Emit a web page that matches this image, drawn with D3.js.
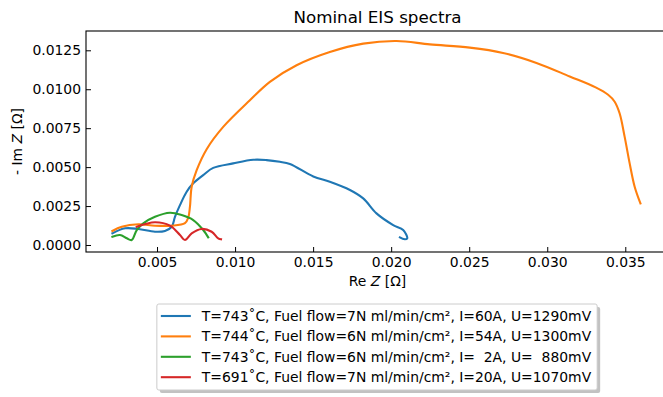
<!DOCTYPE html>
<html lang="en">
<head>
    <meta charset="UTF-8">
    <title>Nominal EIS spectra</title>
    <script src="https://d3js.org/d3.v7.min.js"></script>
    <style>
        body { margin: 0; background: #fff; }
        svg { display: block; font-family: "DejaVu Sans", sans-serif; }
        .tick text { font-size: 13.9px; fill: #000; }
        .tick line { stroke: #000; stroke-width: 1; }
    </style>
</head>
<body>
    <script>
    // Nyquist data: Re Z and -Im Z in ohm
    const blueRe = [0.00214, 0.00295, 0.00380, 0.00487, 0.00551, 0.00594, 0.00615, 0.00647, 0.00690, 0.00732, 0.00796, 0.00860, 0.00988, 0.01117, 0.01202, 0.01287, 0.01351, 0.01501, 0.01607, 0.01736, 0.01821, 0.01906, 0.02013, 0.02077, 0.02103, 0.02088, 0.02056];
    const blueIm = [0.00075, 0.00107, 0.00103, 0.00085, 0.00090, 0.00117, 0.00181, 0.00256, 0.00342, 0.00396, 0.00449, 0.00495, 0.00524, 0.00547, 0.00545, 0.00534, 0.00520, 0.00440, 0.00406, 0.00353, 0.00299, 0.00203, 0.00128, 0.00096, 0.00043, 0.00037, 0.00049];

    const orangeRe = [0.00214, 0.00274, 0.00380, 0.00487, 0.00594, 0.00679, 0.00700, 0.00711, 0.00722, 0.00754, 0.00818, 0.00924, 0.01095, 0.01223, 0.01394, 0.01607, 0.01821, 0.02035, 0.02248, 0.02504, 0.02717, 0.02931, 0.03144, 0.03310, 0.03390, 0.03432, 0.03464, 0.03496, 0.03528, 0.03560, 0.03597];
    const orangeIm = [0.00090, 0.00117, 0.00133, 0.00124, 0.00124, 0.00140, 0.00175, 0.00246, 0.00374, 0.00480, 0.00615, 0.00758, 0.00929, 0.01047, 0.01154, 0.01239, 0.01293, 0.01310, 0.01288, 0.01267, 0.01233, 0.01169, 0.01082, 0.01012, 0.00965, 0.00920, 0.00844, 0.00694, 0.00524, 0.00374, 0.00267];

    const greenRe = [0.00214, 0.00263, 0.00306, 0.00338, 0.00370, 0.00412, 0.00487, 0.00583, 0.00658, 0.00732, 0.00796, 0.00828];
    const greenIm = [0.00053, 0.00064, 0.00043, 0.00032, 0.00096, 0.00139, 0.00181, 0.00207, 0.00192, 0.00160, 0.00096, 0.00049];

    const redRe = [0.00370, 0.00487, 0.00583, 0.00647, 0.00679, 0.00722, 0.00786, 0.00850, 0.00892, 0.00910];
    const redIm = [0.00117, 0.00146, 0.00124, 0.00064, 0.00032, 0.00075, 0.00103, 0.00085, 0.00043, 0.00037];

    const labels = [
        "T=743\u02DAC, Fuel flow=7N ml/min/cm\u00B2, I=60A, U=1290mV",
        "T=744\u02DAC, Fuel flow=6N ml/min/cm\u00B2, I=54A, U=1300mV",
        "T=743\u02DAC, Fuel flow=6N ml/min/cm\u00B2, I=  2A, U=  880mV",
        "T=691\u02DAC, Fuel flow=7N ml/min/cm\u00B2, I=20A, U=1070mV"
    ];
    const colors = ["#1f77b4", "#ff7f0e", "#2ca02c", "#d62728"];

    const xTicks = [0.005, 0.010, 0.015, 0.020, 0.025, 0.030, 0.035];
    const yTicks = [0, 0.0025, 0.0050, 0.0075, 0.0100, 0.0125];

    const series = [[blueRe, blueIm], [orangeRe, orangeIm], [greenRe, greenIm], [redRe, redIm]]
        .map(([re, im]) => re.map((r, i) => ({ re: r, im: im[i] })));

    const W = 663, H = 397;
    const mLeft = 86, mRight = 669, mTop = 31, mBottom = 252;

    const svg = d3.select("body").append("svg")
        .attr("width", W)
        .attr("height", H);

    const x = d3.scaleLinear().domain([0.00045, 0.0378]).range([mLeft, mRight]);
    const y = d3.scaleLinear().domain([-0.00045, 0.01374]).range([mBottom, mTop]);

    svg.append("clipPath").attr("id", "plot")
        .append("rect")
        .attr("x", mLeft).attr("y", mTop)
        .attr("width", mRight - mLeft).attr("height", mBottom - mTop);

    // axes, ticks point inward
    const xAxis = svg.append("g")
        .attr("transform", `translate(0,${mBottom})`)
        .call(d3.axisBottom(x).tickValues(xTicks).tickFormat(d3.format(".3f"))
            .tickSizeInner(-5).tickSizeOuter(0).tickPadding(5));
    const yAxis = svg.append("g")
        .attr("transform", `translate(${mLeft},0)`)
        .call(d3.axisLeft(y).tickValues(yTicks).tickFormat(d3.format(".4f"))
            .tickSizeInner(-5).tickSizeOuter(0).tickPadding(5));
    xAxis.select(".domain").remove();
    yAxis.select(".domain").remove();
    svg.selectAll(".tick text").attr("font-family", "DejaVu Sans");

    const line = d3.line()
        .x(d => x(d.re))
        .y(d => y(d.im))
        .curve(d3.curveCatmullRom.alpha(0.5));

    svg.append("g").attr("clip-path", "url(#plot)")
        .selectAll("path")
        .data(series)
        .enter()
        .append("path")
        .attr("d", line)
        .attr("fill", "none")
        .attr("stroke", (d, i) => colors[i])
        .attr("stroke-width", 2.1)
        .attr("stroke-linejoin", "round")
        .attr("stroke-linecap", "square");

    // frame
    svg.append("rect")
        .attr("x", mLeft).attr("y", mTop)
        .attr("width", mRight - mLeft).attr("height", mBottom - mTop)
        .attr("fill", "none")
        .attr("stroke", "#000")
        .attr("stroke-width", 1.1);

    // title and axis labels
    svg.append("text")
        .attr("x", (mLeft + mRight) / 2).attr("y", 22.5)
        .attr("text-anchor", "middle")
        .style("font-size", "16.7px")
        .text("Nominal EIS spectra");

    const xl = svg.append("text")
        .attr("x", (mLeft + mRight) / 2).attr("y", 286)
        .attr("text-anchor", "middle")
        .style("font-size", "13.9px");
    xl.append("tspan").text("Re ");
    xl.append("tspan").attr("font-style", "italic").text("Z");
    xl.append("tspan").text(" [\u03A9]");

    const yl = svg.append("text")
        .attr("transform", `translate(22,${(mTop + mBottom) / 2}) rotate(-90)`)
        .attr("text-anchor", "middle")
        .style("font-size", "13.9px");
    yl.append("tspan").text("- Im ");
    yl.append("tspan").attr("font-style", "italic").text("Z");
    yl.append("tspan").text(" [\u03A9]");

    // legend
    const legend = svg.append("g");
    const shadow = legend.append("rect");
    const box = legend.append("rect");
    const rowY = d => 316 + d * 20.4;

    const items = legend.selectAll("g.item")
        .data(labels)
        .enter()
        .append("g")
        .attr("class", "item");
    items.append("line")
        .attr("y1", (d, i) => rowY(i)).attr("y2", (d, i) => rowY(i))
        .attr("stroke", (d, i) => colors[i])
        .attr("stroke-width", 2.1);
    const texts = items.append("text")
        .attr("y", (d, i) => rowY(i) + 5)
        .attr("xml:space", "preserve")
        .style("white-space", "pre")
        .style("font-size", "13.9px")
        .text(d => d);

    const textW = d3.max(texts.nodes(), n => n.getComputedTextLength());
    const boxW = 4 + 30 + 11 + textW + 6;
    const boxX = 377 - boxW / 2;
    items.select("line").attr("x1", boxX + 4).attr("x2", boxX + 34);
    texts.attr("x", boxX + 45);

    shadow.attr("x", boxX + 3).attr("y", 307)
        .attr("width", boxW).attr("height", 86)
        .attr("rx", 2)
        .attr("fill", "#999")
        .attr("opacity", 0.6);
    box.attr("x", boxX).attr("y", 304)
        .attr("width", boxW).attr("height", 86)
        .attr("rx", 2)
        .attr("fill", "#fff")
        .attr("stroke", "#ccc")
        .attr("stroke-width", 1);
    </script>
</body>
</html>
